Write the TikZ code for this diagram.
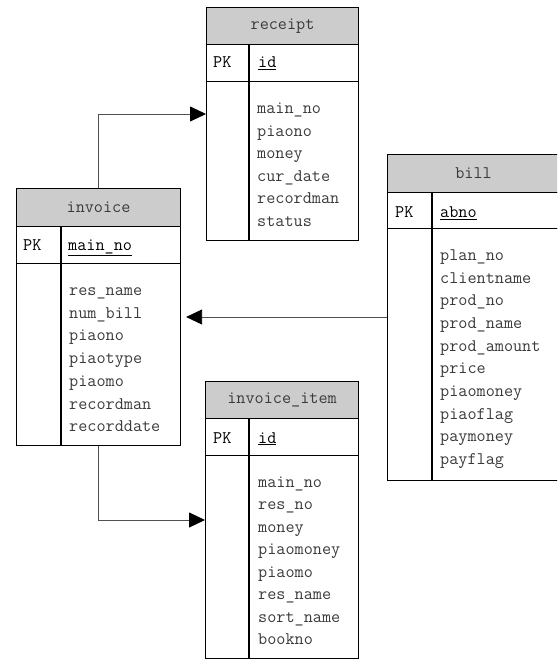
\documentclass[tikz,border=0pt]{standalone}
\usepackage{fontspec}
\usetikzlibrary{arrows.meta}

\definecolor{hdrfill}{HTML}{CCCCCC}
\definecolor{fieldtxt}{HTML}{3A3A3A}
\definecolor{connline}{HTML}{505050}

\newcommand{\tblfont}{\ttfamily\fontsize{17.7}{20}\selectfont}

\tikzset{
  tblpart/.style={draw=black, line width=1.1pt, rectangle, inner sep=0pt, anchor=north west},
  hdr/.style={tblpart, fill=hdrfill, text=fieldtxt, font=\tblfont},
  keytxt/.style={anchor=base west, inner sep=0pt, text=black, font=\tblfont},
  fieldtxt/.style={anchor=base west, inner sep=0pt, text=fieldtxt, font=\tblfont},
  divider/.style={draw=black, line width=1.1pt},
  conn/.style={draw=connline, line width=0.8pt, -{Triangle[length=16pt,width=15pt,black]}},
}

\begin{document}
\begin{tikzpicture}[x=1pt, y=-1pt]
\useasboundingbox (0,0) rectangle (557,660);
\clip (0,0) rectangle (557,660);

% ---------- receipt ----------
\node[hdr, minimum width=152pt, minimum height=37pt] (rh) at (206,7) {receipt};
\node[tblpart, minimum width=152pt, minimum height=37pt] (rk) at (206,44) {};
\node[tblpart, minimum width=152pt, minimum height=159pt] (rb) at (206,81) {};
\draw[divider] (249,44) -- (249,240);
\node[keytxt] (rpk) at (213,68) {PK};
\node[keytxt] (rid) at (258,68) {\underline{id}};
\foreach \f [count=\i from 0] in {main\_no,piaono,money,cur\_date,recordman,status}
  \node[fieldtxt] (rf\i) at (257,113.5+22.6*\i) {\f};

% ---------- invoice ----------
\node[hdr, minimum width=164pt, minimum height=38pt] (ih) at (16,188) {invoice};
\node[tblpart, minimum width=164pt, minimum height=37pt] (ik) at (16,226) {};
\node[tblpart, minimum width=164pt, minimum height=182pt] (ib) at (16,263) {};
\draw[divider] (61,226) -- (61,445);
\node[keytxt] (ipk) at (23,250) {PK};
\node[keytxt] (iid) at (68,250) {\underline{main\_no}};
\foreach \f [count=\i from 0] in {res\_name,num\_bill,piaono,piaotype,piaomo,recordman,recorddate}
  \node[fieldtxt] (if\i) at (69,295.5+22.7*\i) {\f};

% ---------- bill ----------
\node[hdr, minimum width=172pt, minimum height=38pt] (bh) at (387,154) {bill};
\node[tblpart, minimum width=172pt, minimum height=36pt] (bk) at (387,192) {};
\node[tblpart, minimum width=172pt, minimum height=252pt] (bb) at (387,228) {};
\draw[divider] (432,192) -- (432,480);
\node[keytxt] (bpk) at (395,218) {PK};
\node[keytxt] (bid) at (440,218) {\underline{abno}};
\foreach \f [count=\i from 0] in {plan\_no,clientname,prod\_no,prod\_name,prod\_amount,price,piaomoney,piaoflag,paymoney,payflag}
  \node[fieldtxt] (bf\i) at (440,260.5+22.67*\i) {\f};

% ---------- invoice_item ----------
\node[hdr, minimum width=153pt, minimum height=37pt] (th) at (205,381) {invoice\_item};
\node[tblpart, minimum width=153pt, minimum height=37pt] (tk) at (205,418) {};
\node[tblpart, minimum width=153pt, minimum height=203pt] (tb) at (205,455) {};
\draw[divider] (249,418) -- (249,658);
\node[keytxt] (tpk) at (213,443) {PK};
\node[keytxt] (tid) at (258,443) {\underline{id}};
\foreach \f [count=\i from 0] in {main\_no,res\_no,money,piaomoney,piaomo,res\_name,sort\_name,bookno}
  \node[fieldtxt] (tf\i) at (258,487.5+22.43*\i) {\f};

% ---------- relations ----------
\draw[conn] (ih.north) |- ([yshift=-33pt]rb.north west);
\draw[conn] ([yshift=-89pt]bb.north west) coordinate (bsrc) -- ([xshift=5pt]ib.east |- bsrc);
\draw[conn] (ib.south) |- ([yshift=-65pt]tb.north west);
\end{tikzpicture}
\end{document}
